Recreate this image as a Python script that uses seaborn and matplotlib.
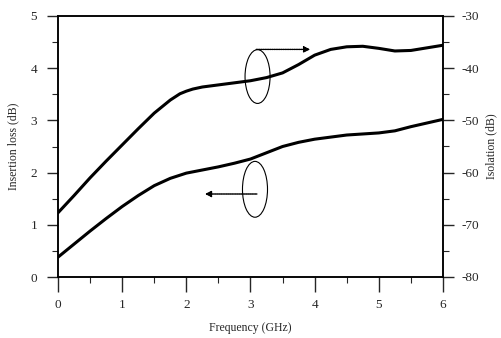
import matplotlib
matplotlib.use("Agg")
import matplotlib.pyplot as plt
import seaborn as sns
import pandas as pd
from matplotlib.patches import Ellipse
from matplotlib.ticker import MultipleLocator

# ---- data ----
freq_il = [0.0, 0.25, 0.5, 0.75, 1.0, 1.25, 1.5, 1.75, 2.0, 2.25, 2.5, 2.75, 3.0,
           3.25, 3.5, 3.75, 4.0, 4.25, 4.5, 4.75, 5.0, 5.25, 5.5, 5.75, 6.0]
insertion_loss = [0.38, 0.63, 0.88, 1.12, 1.35, 1.56, 1.75, 1.89, 1.99, 2.05, 2.11, 2.18, 2.26,
                  2.38, 2.50, 2.58, 2.64, 2.68, 2.72, 2.74, 2.76, 2.80, 2.88, 2.95, 3.02]

freq_iso = [0.0, 0.25, 0.5, 0.75, 1.0, 1.25, 1.5, 1.75, 1.9, 2.0, 2.1, 2.25, 2.5, 2.75, 3.0,
            3.25, 3.5, 3.75, 4.0, 4.25, 4.5, 4.75, 5.0, 5.25, 5.5, 5.75, 6.0]
isolation = [-67.7, -64.4, -61.0, -57.8, -54.7, -51.6, -48.6, -46.1, -44.9, -44.4, -44.0, -43.6, -43.2, -42.8, -42.4,
             -41.8, -40.9, -39.3, -37.5, -36.4, -35.9, -35.8, -36.2, -36.7, -36.6, -36.1, -35.6]

x_ticks = [0, 1, 2, 3, 4, 5, 6]
left_ticks = [0, 1, 2, 3, 4, 5]
right_ticks = [-80, -70, -60, -50, -40, -30]

sns.set_style("ticks")
plt.rcParams['font.family'] = ['Liberation Serif', 'DejaVu Serif']
plt.rcParams['axes.unicode_minus'] = False

fig = plt.figure(figsize=(5.02, 3.38), dpi=100)
ax = fig.add_axes([58/502, 61/338, 385/502, 261/338])
ax2 = ax.twinx()

df_il = pd.DataFrame({"f": freq_il, "v": insertion_loss})
df_iso = pd.DataFrame({"f": freq_iso, "v": isolation})
sns.lineplot(data=df_il, x="f", y="v", ax=ax, color="black", lw=2.2)
sns.lineplot(data=df_iso, x="f", y="v", ax=ax2, color="black", lw=2.2)

ax.set_xlim(0, 6)
ax.set_ylim(0, 5)
ax2.set_ylim(-80, -30)

ax.set_xticks(x_ticks)
ax.set_xticklabels([str(t) for t in x_ticks])
ax.xaxis.set_minor_locator(MultipleLocator(0.5))
ax.set_yticks(left_ticks)
ax.set_yticklabels([str(t) for t in left_ticks])
ax.yaxis.set_minor_locator(MultipleLocator(0.5))
ax2.set_yticks(right_ticks)
ax2.set_yticklabels(["-" + str(abs(t)) for t in right_ticks])
ax2.yaxis.set_minor_locator(MultipleLocator(5))

for a in (ax, ax2):
    for s in a.spines.values():
        s.set_visible(True)
        s.set_linewidth(1.1)
        s.set_color("black")

ax.tick_params(axis="x", which="major", direction="out", length=11, width=1.0, pad=5, labelsize=9.5)
ax.tick_params(axis="x", which="minor", direction="out", length=4, width=0.8)
ax.tick_params(axis="y", which="major", direction="out", length=8, width=1.0, pad=7, labelsize=9.5)
ax.tick_params(axis="y", which="minor", direction="out", length=4, width=0.8)
ax2.tick_params(axis="y", which="major", direction="out", length=8, width=1.0, pad=5, labelsize=9.5)
ax2.tick_params(axis="y", which="minor", direction="out", length=4, width=0.8)

ax.set_xlabel("Frequency (GHz)", fontsize=8.5, labelpad=8)
ax.set_ylabel("Insertion loss (dB)", fontsize=8.5, labelpad=8)
ax2.set_ylabel("Isolation (dB)", fontsize=8.5, labelpad=5)

# annotations: ellipses with dotted arrows
ax.add_patch(Ellipse((3.11, 3.84), 0.39, 1.03, fill=False, ec="black", lw=0.8))
ax.add_patch(Ellipse((3.07, 1.68), 0.39, 1.07, fill=False, ec="black", lw=0.8))
ax.annotate("", xy=(3.93, 4.36), xytext=(3.09, 4.36),
            arrowprops=dict(arrowstyle="-|>", color="black", lw=1.0, ls=(0, (1, 0.6)),
                            mutation_scale=9, shrinkA=0, shrinkB=0))
ax.annotate("", xy=(2.29, 1.59), xytext=(3.10, 1.59),
            arrowprops=dict(arrowstyle="-|>", color="black", lw=1.0, ls=(0, (1, 0.6)),
                            mutation_scale=9, shrinkA=0, shrinkB=0))

fig.savefig("out.png", dpi=100)
